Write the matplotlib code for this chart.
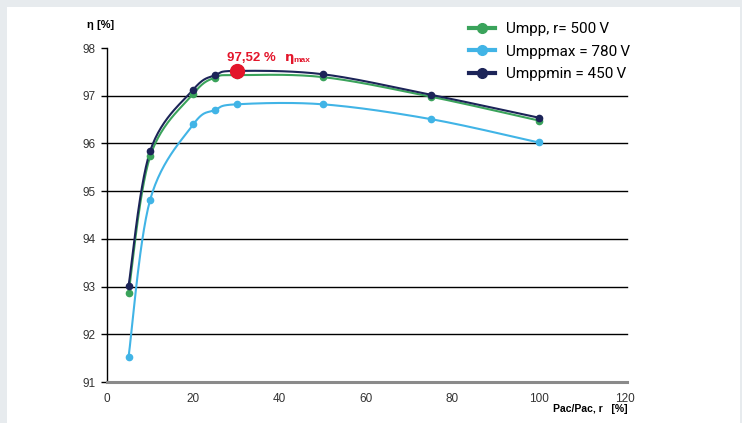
import matplotlib.pyplot as plt
import numpy as np
from matplotlib.patches import Rectangle

# load in % of rated power
load = [5, 10, 20, 25, 30, 50, 75, 100]

eta_umpp_r = [92.87, 95.73, 97.04, 97.38, 97.43, 97.39, 96.98, 96.48]
eta_umppmax = [91.53, 94.82, 96.40, 96.70, 96.82, 96.82, 96.51, 96.02]
eta_umppmin = [93.02, 95.84, 97.13, 97.43, 97.52, 97.45, 97.02, 96.54]

series_labels = ["Umpp, r= 500\u2009V", "Umppmax = 780\u2009V", "Umppmin = 450\u2009V"]
series_colors = ["#3aa35b", "#41b4e6", "#1c2458"]

eta_max_x = 30
eta_max_y = 97.52


def smooth(x, y, n=30):
    # Catmull-Rom style smoothing between points, like a spreadsheet "smoothed line"
    pts = np.column_stack([x, y]).astype(float)
    pts = np.vstack([pts[0], pts, pts[-1]])
    out = []
    t = np.linspace(0, 1, n)
    for i in range(1, len(pts) - 2):
        p0, p1, p2, p3 = pts[i - 1], pts[i], pts[i + 1], pts[i + 2]
        m1 = (p2 - p0) / 2
        m2 = (p3 - p1) / 2
        h00 = 2 * t**3 - 3 * t**2 + 1
        h10 = t**3 - 2 * t**2 + t
        h01 = -2 * t**3 + 3 * t**2
        h11 = t**3 - t**2
        seg = (h00[:, None] * p1 + h10[:, None] * m1 + h01[:, None] * p2 + h11[:, None] * m2)
        out.append(seg)
    out = np.vstack(out)
    return out[:, 0], out[:, 1]


W, H = 742, 423
fig = plt.figure(figsize=(W / 100, H / 100), dpi=100)
fig.patch.set_facecolor("#e7ebee")
fig.patches.append(Rectangle((7 / W, 0), 733 / W, 416 / H, transform=fig.transFigure,
                             facecolor="white", edgecolor="none", zorder=-10))

ax = fig.add_axes([107 / W, 1 - 382 / H, 518 / W, 334 / H])
ax.set_facecolor("none")

for yv in [92, 93, 94, 95, 96, 97]:
    ax.plot([0, 120.5], [yv, yv], color="black", lw=1, zorder=1, clip_on=False)

all_data = [eta_umpp_r, eta_umppmax, eta_umppmin]
for vals, lab, col in zip(all_data, series_labels, series_colors):
    sx, sy = smooth(load, vals)
    ax.plot(sx, sy, color=col, lw=1.5, zorder=3)
    ax.plot(load, vals, linestyle="none", marker="o", ms=4.5, color=col, zorder=4)
    ax.plot([], [], color=col, lw=3, marker="o", ms=7, label=lab)

ax.plot([eta_max_x], [eta_max_y], marker="o", ms=10, color="#e3162b", zorder=5)
ax.annotate("97,52 %", (eta_max_x, eta_max_y), xytext=(-7, 5), textcoords="offset points",
            color="#e3162b", fontsize=9.5, fontweight="bold", family="Liberation Sans",
            ha="left", va="bottom")
ax.annotate("\u03b7", (eta_max_x, eta_max_y), xytext=(35, 5), textcoords="offset points",
            color="#e3162b", fontsize=9.5, fontweight="bold", family="DejaVu Sans",
            ha="left", va="bottom")
ax.annotate("max", (eta_max_x, eta_max_y), xytext=(41, 5), textcoords="offset points",
            color="#e3162b", fontsize=6, fontweight="bold", family="Liberation Sans",
            ha="left", va="bottom")

ax.set_xlim(0, 120)
ax.set_ylim(91, 98)
ax.set_xticks([0, 20, 40, 60, 80, 100, 120])
ax.set_yticks([91, 92, 93, 94, 95, 96, 97, 98])
ax.tick_params(axis="x", length=0, pad=8, labelsize=8.5, labelcolor="#333333")
ax.tick_params(axis="y", length=4, width=1, pad=4, labelsize=8.5, labelcolor="#333333")
for lbl in ax.get_xticklabels() + ax.get_yticklabels():
    lbl.set_family("Liberation Sans")

ax.spines["top"].set_visible(False)
ax.spines["right"].set_visible(False)
ax.spines["left"].set_color("black")
ax.spines["left"].set_linewidth(1)
ax.spines["bottom"].set_color("#8a8a8a")
ax.spines["bottom"].set_linewidth(2.2)
ax.spines["bottom"].set_bounds(0, 120.5)

fig.text(87 / W, 1 - 25 / H, "\u03b7 [%]", fontsize=8, fontweight="bold",
         family=["Liberation Sans", "DejaVu Sans"], va="center", ha="left")
fig.text(628 / W, 1 - 409 / H, "Pac/Pac, r   [%]", fontsize=7.5, fontweight="bold",
         family="Liberation Sans", va="center", ha="right")

leg = ax.legend(loc="upper left", bbox_to_anchor=(460 / W, 1 - 13 / H), bbox_transform=fig.transFigure,
                frameon=False, handlelength=1.7, handletextpad=0.7, labelspacing=0.55,
                borderaxespad=0, borderpad=0.6,
                prop={"family": ["Roboto", "DejaVu Sans"], "size": 11})

fig.savefig("out.png", dpi=100, facecolor=fig.get_facecolor())
